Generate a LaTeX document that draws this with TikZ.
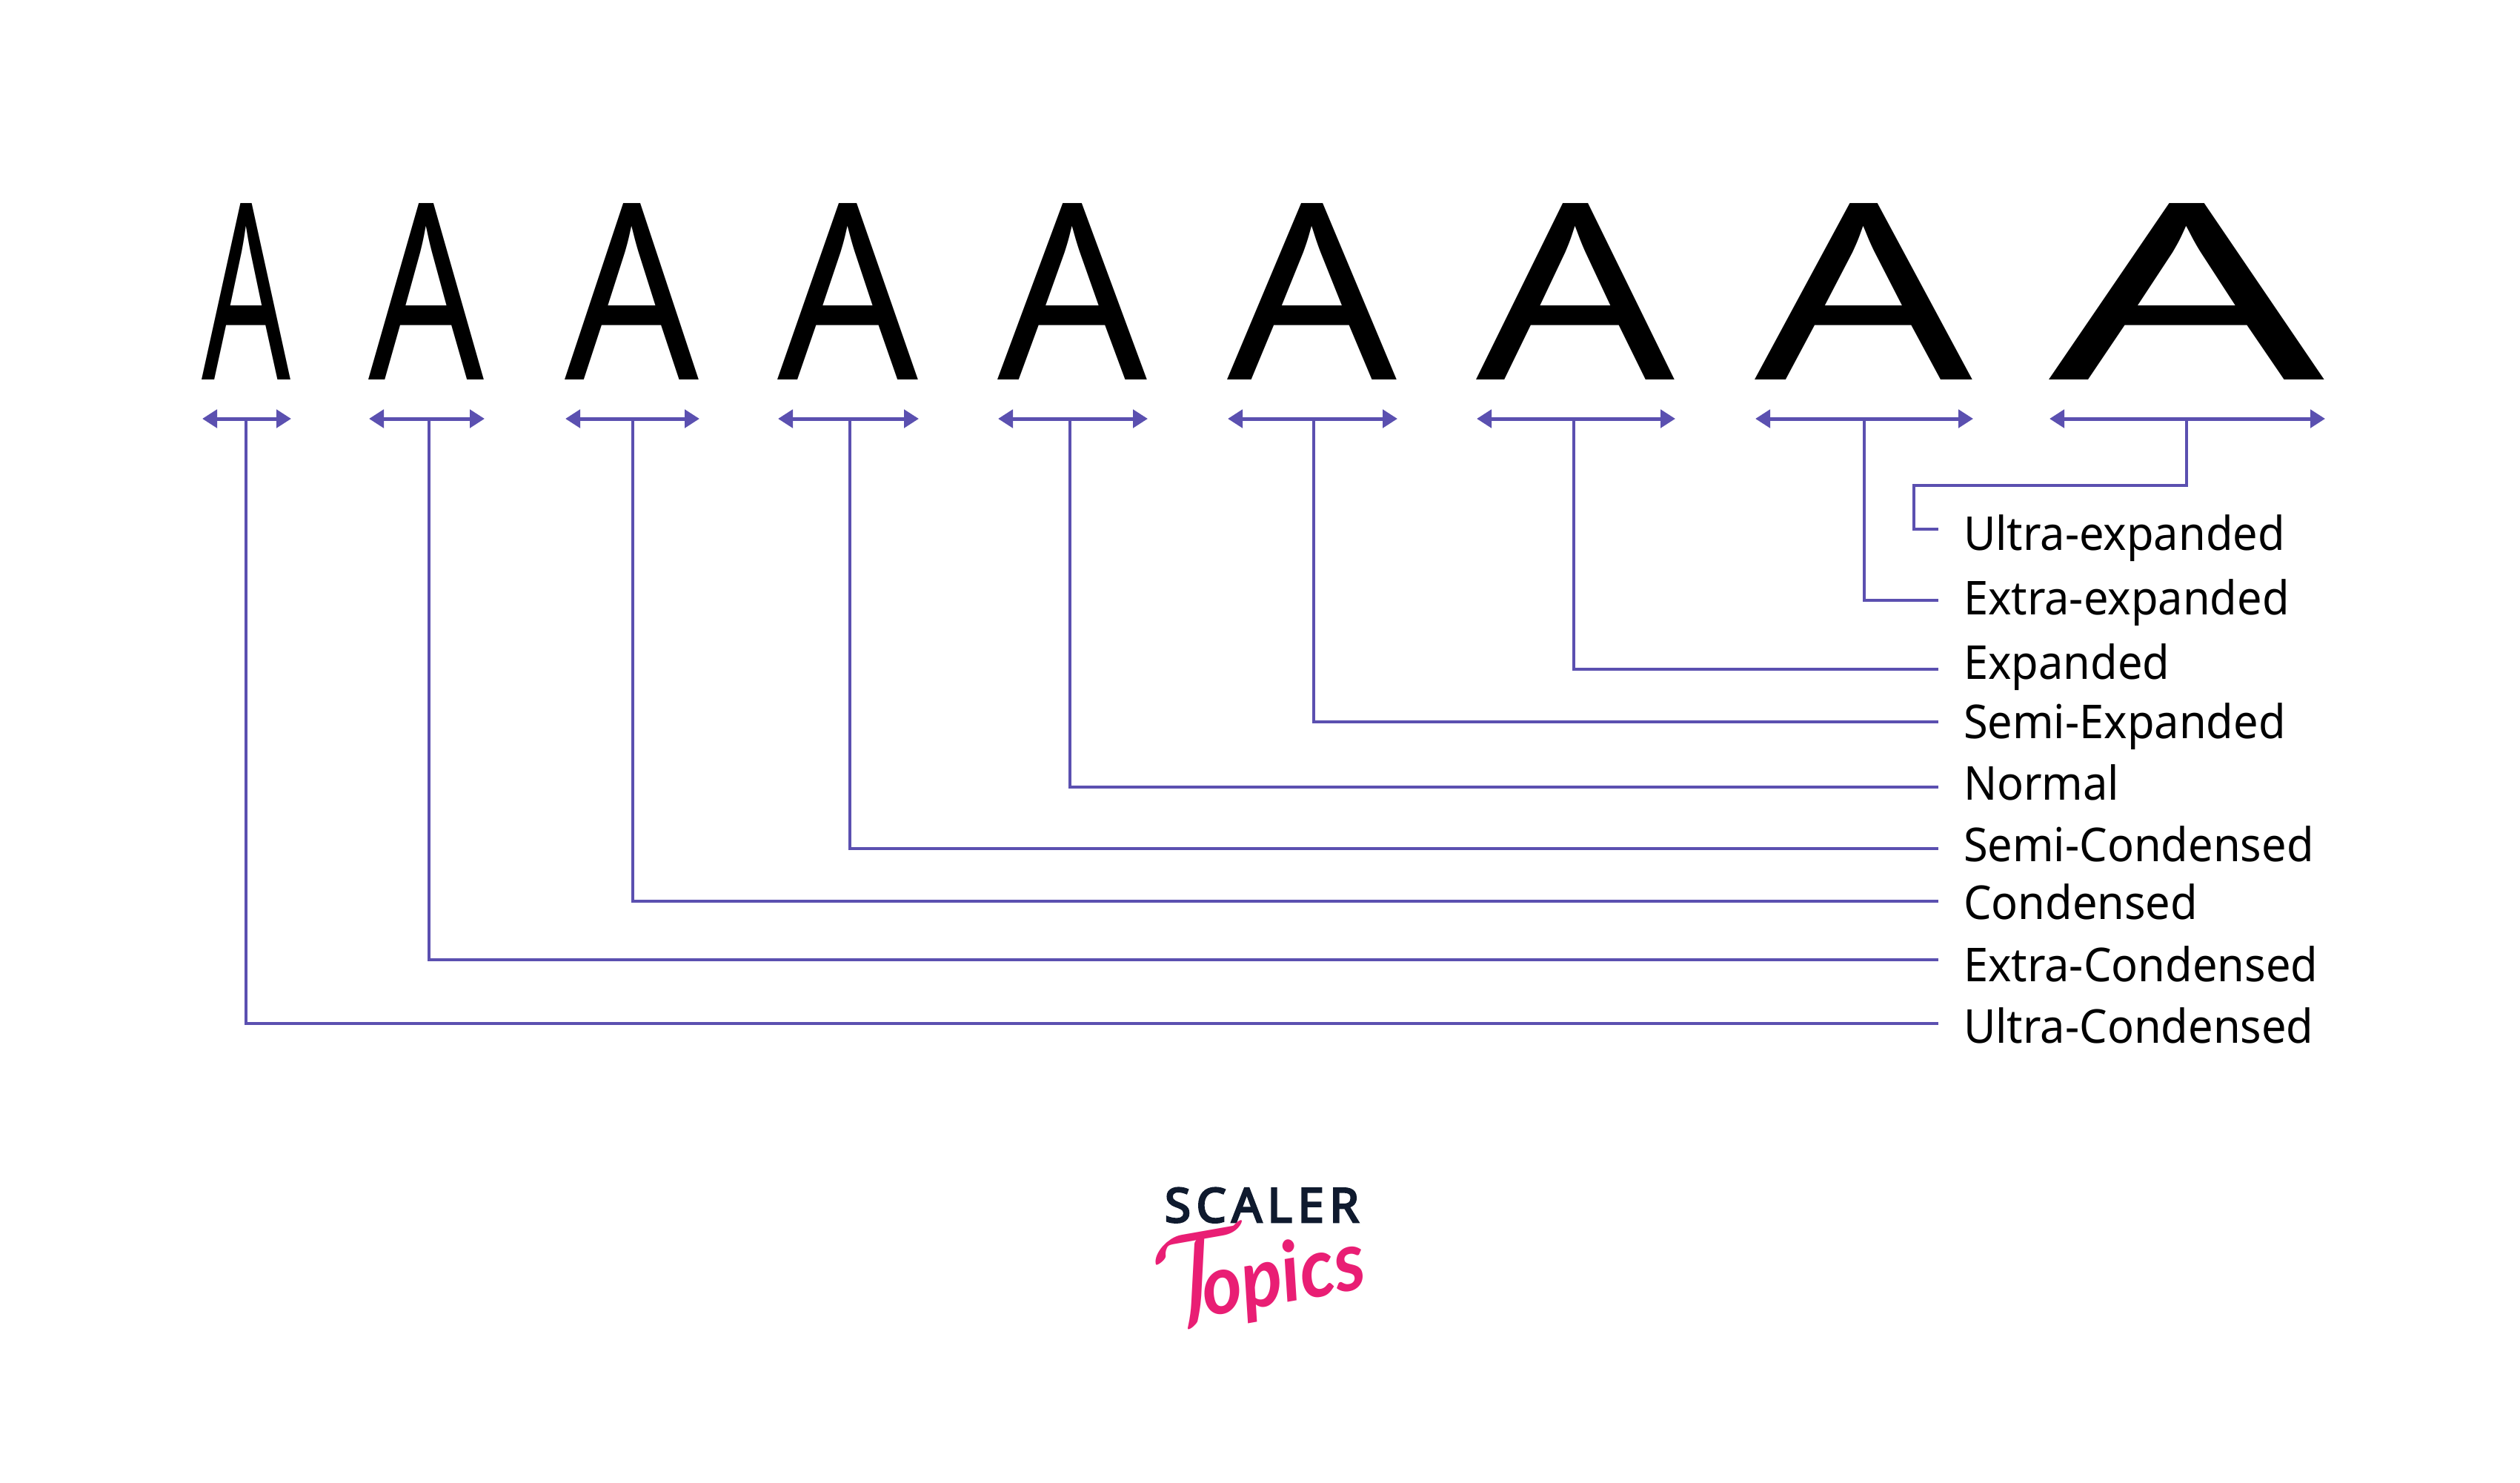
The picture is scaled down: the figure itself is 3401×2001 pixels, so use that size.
\documentclass[tikz,border=0pt]{standalone}
\usepackage{fontspec}
\usepackage{graphicx}
\setmainfont{Noto Sans}
\newfontfamily\logofont[LetterSpace=11.5,FakeBold=4]{Noto Sans}
\newfontfamily\latofont{Lato}
\usetikzlibrary{arrows.meta}
\definecolor{lnpurple}{HTML}{5B50B0}
\definecolor{logonavy}{HTML}{0F1A2E}
\definecolor{logopink}{HTML}{E91E74}
\tikzset{
  glyph/.style={inner sep=0pt,outer sep=0pt,anchor=base,text=black,font=\fontsize{332}{332}\selectfont},
  lab/.style={inner sep=0pt,outer sep=0pt,anchor=base west,text=black,xscale=0.945,font=\fontsize{63}{70}\selectfont},
  dim/.style={lnpurple,line width=5pt,{Triangle[length=20pt,width=24pt]}-{Triangle[length=20pt,width=24pt]}},
  lead/.style={lnpurple,line width=4pt,line join=miter},
}
\begin{document}
\begin{tikzpicture}[x=1pt,y=-1pt]
\path[fill=white,use as bounding box] (0,0) rectangle (3401,2001);
\foreach \n/\xl/\xr/\xa/\yl/\yb/\txt in {
 1/273/393/332/1381/1407/Ultra-Condensed,
 2/498/654/579/1295/1324/Extra-Condensed,
 3/763/944/854/1216/1240.4/Condensed,
 4/1050/1240/1147/1145/1162/Semi-Condensed,
 5/1347/1549/1444/1062/1079.5/Normal,
 6/1657/1886/1773/974/996/Semi-Expanded,
 7/1993/2261/2124/902.5/916/Expanded,
 8/2369/2663/2516/809.5/829/Extra-expanded}{
  \node[glyph,xscale={(\xr-\xl)/212}] (g\n) at ({(\xl+\xr)/2},512.5) {A};
  \coordinate (l\n) at (\xl,565);
  \coordinate (r\n) at (\xr,565);
  \coordinate (s\n) at (\xa,565);
  \coordinate (e\n) at (2616,\yl);
  \draw[dim] (l\n) -- (r\n);
  \draw[lead] (s\n) |- (e\n);
  \node[lab] (t\n) at (2650,\yb) {\txt};
}
\node[glyph,xscale={372/212}] (g9) at (2952,512.5) {A};
\coordinate (l9) at (2766,565);
\coordinate (r9) at (3138,565);
\coordinate (s9) at (2951,565);
\coordinate (b9) at (2951,655);
\coordinate (c9) at (2583,655);
\coordinate (d9) at (2583,713.5);
\coordinate (e9) at (2616,713.5);
\draw[dim] (l9) -- (r9);
\draw[lead] (s9) -- (b9) -- (c9) -- (d9) -- (e9);
\node[lab] (t9) at (2650,742.6) {Ultra-expanded};
\node[inner sep=0pt,anchor=base,text=logonavy,font=\logofont\fontsize{64}{64}\selectfont] (scaler) at (1703,1649) {SCALER};
\node[inner sep=0pt,anchor=base,rotate=10,xscale=0.92,text=logopink,font=\latofont\bfseries\itshape\fontsize{112}{112}\selectfont] (topics) at (1738,1757) {\llap{\raisebox{-2pt}{\scalebox{6.8}{$\mathcal{T}$}}\kern-70pt}opics};
\end{tikzpicture}
\end{document}
